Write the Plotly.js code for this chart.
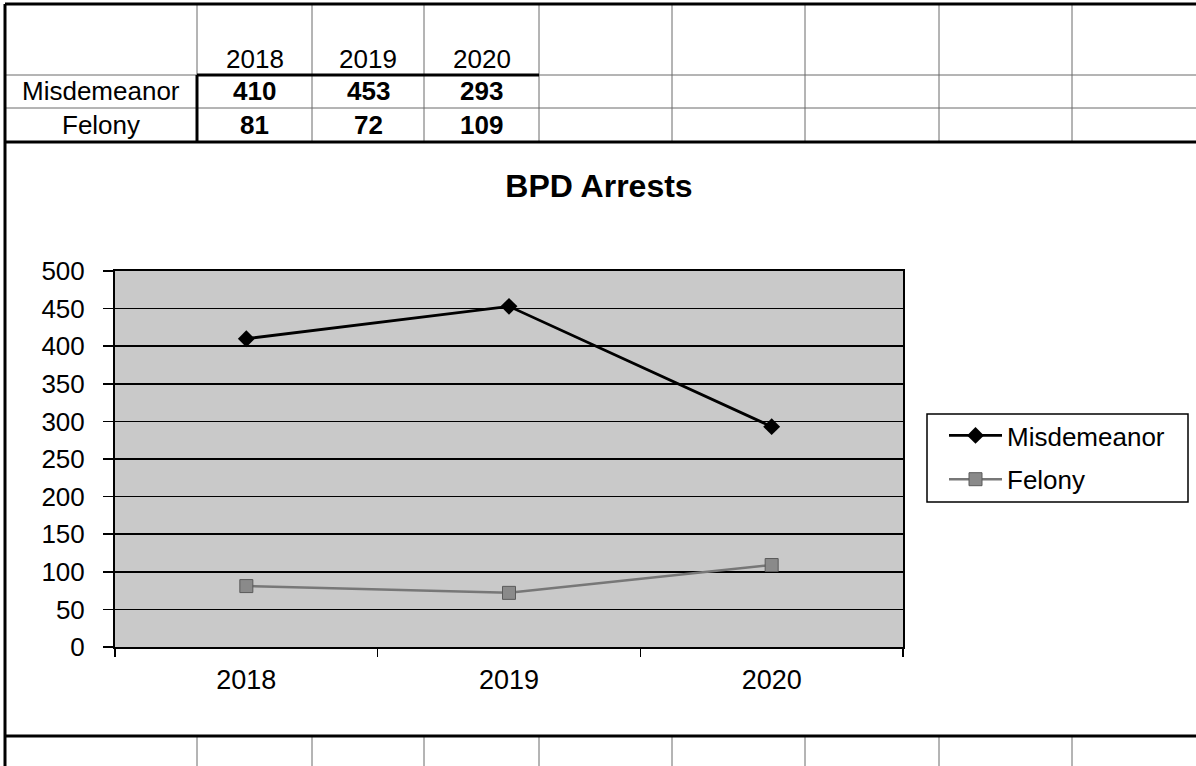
<!DOCTYPE html>
<html>
<head>
<meta charset="utf-8">
<script src="https://cdn.plot.ly/plotly-3.0.1.min.js"></script>
<style>html,body{margin:0;padding:0;background:#fff;}#chart{width:1196px;height:766px;}</style>
</head>
<body>
<div id="chart"></div>
<script>
const years = ['2018', '2019', '2020'];
const misdemeanor = [410, 453, 293];
const felony = [81, 72, 109];
const seriesNames = ['Misdemeanor', 'Felony'];
const chartTitle = 'BPD Arrests';

const W = 1196, H = 766;
const px = x => x / W;
const py = y => 1 - y / H;
const FONT = 'Liberation Sans, Arial, sans-serif';

// spreadsheet grid geometry (decoration)
const colEdges = [5, 197, 312, 424, 539, 672, 805, 939, 1072, 1196];
const rowCenters = [59, 91, 125];
const shapes = [];
function line(x0, y0, x1, y1, w, c) {
  shapes.push({type: 'line', xref: 'paper', yref: 'paper', x0: px(x0), y0: py(y0), x1: px(x1), y1: py(y1),
    line: {color: c || '#000', width: w || 1}, layer: 'above'});
}
const thin = '#6a6a6a';
line(5, 75, 197, 75, 1, thin);
line(539, 75, 1196, 75, 1, thin);
line(5, 108, 1196, 108, 1, thin);
line(197, 4, 197, 75, 1, thin);
[312, 424, 539, 672, 805, 939, 1072].forEach(x => line(x, 4, x, 142, 1, thin));
[197, 312, 424, 539, 672, 805, 939, 1072].forEach(x => line(x, 736, x, 766, 1, thin));
line(5, 4, 1196, 4, 3);
line(5, 4, 5, 766, 3);
line(5, 142, 1196, 142, 3);
line(5, 736, 1196, 736, 3);
line(197, 75, 539, 75, 3);
line(197, 75, 197, 142, 3);
// legend frame
shapes.push({type: 'rect', xref: 'paper', yref: 'paper', x0: px(927), x1: px(1188), y0: py(502), y1: py(414),
  line: {color: '#000', width: 1.5}, fillcolor: 'rgba(0,0,0,0)', layer: 'above'});

const annotations = [];
function txt(t, x, y, size, bold) {
  annotations.push({text: t, xref: 'paper', yref: 'paper', x: px(x), y: py(y), xanchor: 'center', yanchor: 'middle',
    showarrow: false, font: {family: FONT, size: size, color: '#000', weight: bold ? 'bold' : 'normal'}});
}
years.forEach((yr, i) => {
  const cx = (colEdges[i + 1] + colEdges[i + 2]) / 2;
  txt(yr, cx, rowCenters[0], 26, false);
  txt(String(misdemeanor[i]), cx, rowCenters[1], 26, true);
  txt(String(felony[i]), cx, rowCenters[2], 26, true);
});
txt(seriesNames[0], (colEdges[0] + colEdges[1]) / 2, rowCenters[1], 26, false);
txt(seriesNames[1], (colEdges[0] + colEdges[1]) / 2, rowCenters[2], 26, false);

const traces = [
  {type: 'scatter', mode: 'lines+markers', name: seriesNames[0], x: years, y: misdemeanor, legendgroup: 'a',
   line: {color: '#000', width: 2.8}, marker: {symbol: 'diamond', size: 13, color: '#000'}},
  {type: 'scatter', mode: 'lines+markers', name: seriesNames[1], x: years, y: felony, legendgroup: 'b',
   line: {color: '#777', width: 2.5}, marker: {symbol: 'square', size: 13, color: '#8a8a8a', line: {color: '#5a5a5a', width: 1}}}
];

const layout = {
  width: W, height: H, autosize: false,
  margin: {l: 0, r: 0, t: 0, b: 0, pad: 0},
  paper_bgcolor: '#fff', plot_bgcolor: '#c9c9c9',
  font: {family: FONT, color: '#000'},
  title: {text: chartTitle, x: px(599), y: py(186), xanchor: 'center', yanchor: 'middle', xref: 'paper', yref: 'paper',
    font: {family: FONT, size: 32, weight: 'bold', color: '#000'}},
  xaxis: {type: 'category', domain: [px(115), px(903)], range: [-0.5, 2.5], tickson: 'boundaries',
    ticks: 'outside', ticklen: 8, tickwidth: 1.5, tickcolor: '#000', showgrid: false, zeroline: false,
    showline: true, linecolor: '#000', linewidth: 2, mirror: true, ticklabelstandoff: 8,
    tickfont: {family: FONT, size: 27, color: '#000'}, fixedrange: true},
  yaxis: {domain: [py(647), py(271)], range: [0, 500], dtick: 50, tick0: 0, ticks: 'outside', ticklen: 10,
    tickwidth: 1.5, tickcolor: '#000', showgrid: true, gridcolor: '#000', gridwidth: 1.5, zeroline: false,
    showline: true, linecolor: '#000', linewidth: 2, mirror: true, ticklabelstandoff: 13,
    tickfont: {family: FONT, size: 26, color: '#000'}, fixedrange: true},
  showlegend: true,
  legend: {x: px(944), y: py(412), xanchor: 'left', yanchor: 'top', bgcolor: 'rgba(0,0,0,0)', borderwidth: 0,
    font: {family: FONT, size: 26, color: '#000'}, itemwidth: 53, tracegroupgap: 7, traceorder: 'grouped'},
  shapes: shapes,
  annotations: annotations
};

Plotly.newPlot('chart', traces, layout, {displayModeBar: false, staticPlot: true});
</script>
</body>
</html>
